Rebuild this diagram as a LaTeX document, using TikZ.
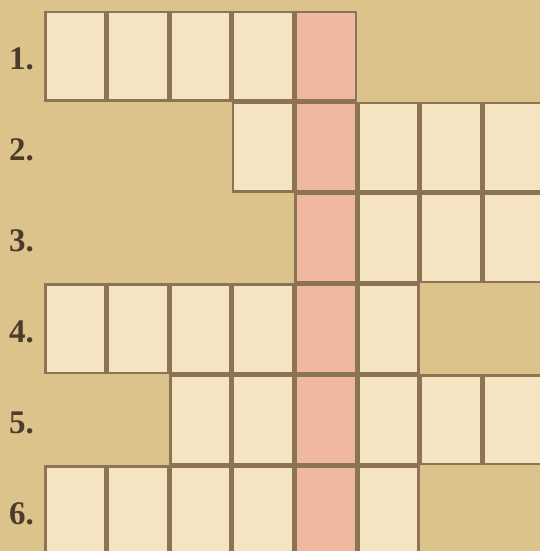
\documentclass[tikz,border=0pt]{standalone}
\usepackage{fontspec}
\setmainfont{Liberation Serif}
\definecolor{bgtan}{HTML}{DCC38B}
\definecolor{cellcream}{HTML}{F4E4C2}
\definecolor{cellpink}{HTML}{F0B89F}
\definecolor{cellline}{HTML}{8C7353}
\definecolor{labelbrown}{HTML}{4B3B2B}
\tikzset{
  cellbox/.style={draw=cellline, fill=cellcream, line width=2.5pt, minimum width=60.1pt, minimum height=88.3pt, inner sep=0pt, outer sep=0pt},
  pinkbox/.style={cellbox, fill=cellpink},
  rowlabel/.style={anchor=base west, inner sep=0pt, text=labelbrown, font=\fontsize{33}{33}\selectfont\bfseries}
}
\begin{document}
\begin{tikzpicture}[x=1pt,y=-1pt]
\fill[bgtan] (0,0) rectangle (540,551);
\useasboundingbox (0,0) rectangle (540,551);
\begin{scope}
\clip (0,0) rectangle (540,551);
% row r: first col, last col
\foreach \r/\a/\b in {1/0/4, 2/3/7, 3/4/7, 4/0/5, 5/2/7, 6/0/5} {
  \pgfmathsetmacro{\ytop}{11+(\r-1)*90.8}
  \foreach \c in {\a,...,\b} {
    \pgfmathsetmacro{\xc}{44+\c*62.6+31.3}
    \pgfmathsetmacro{\yc}{\ytop+45.4}
    \ifnum\c=4
      \node[pinkbox] (cell-\r-\c) at (\xc,\yc) {};
    \else
      \node[cellbox] (cell-\r-\c) at (\xc,\yc) {};
    \fi
  }
  \node[rowlabel] (label-\r) at (9,\ytop+59) {\r.};
}
\end{scope}
\end{tikzpicture}
\end{document}
